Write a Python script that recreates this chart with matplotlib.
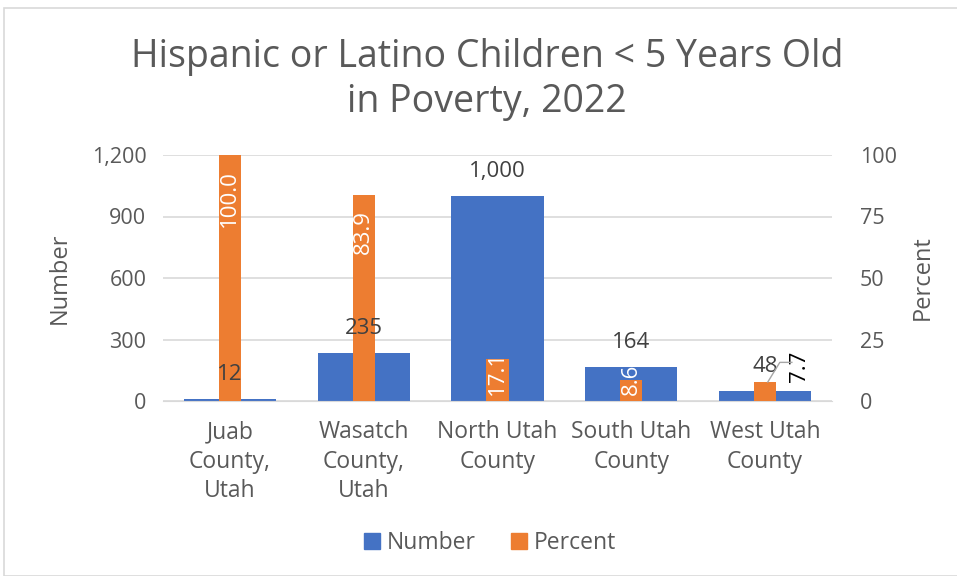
import matplotlib
matplotlib.use("Agg")
import matplotlib.pyplot as plt
from matplotlib.patches import Rectangle, Patch
from matplotlib.ticker import FuncFormatter

plt.rcParams['font.family'] = ['Open Sans', 'DejaVu Sans']

categories = ["Juab\nCounty,\nUtah", "Wasatch\nCounty,\nUtah", "North Utah\nCounty",
              "South Utah\nCounty", "West Utah\nCounty"]
number = [12, 235, 1000, 164, 48]
percent = [100.0, 83.9, 17.1, 8.6, 7.7]
number_labels = ["12", "235", "1,000", "164", "48"]
percent_labels = ["100.0", "83.9", "17.1", "8.6", "7.7"]
left_ticks = [0, 300, 600, 900, 1200]
right_ticks = [0, 25, 50, 75, 100]

BLUE = "#4472C4"
ORANGE = "#ED7D31"
TXT = "#595959"

fig = plt.figure(figsize=(9.57, 5.76), dpi=100)
fig.patches.append(Rectangle((4/957, 0), 1.0, 1 - 8/576, transform=fig.transFigure,
                             fill=False, edgecolor="#d9d9d9", linewidth=1.2, zorder=0))

ax = fig.add_axes([163/957, 1 - 401/576, (832-163)/957, (401-155)/576])
ax2 = ax.twinx()

x = list(range(len(categories)))
ax.bar(x, number, width=0.69, color=BLUE, zorder=2)
ax2.bar(x, percent, width=0.165, color=ORANGE, zorder=3)

ax.set_ylim(0, 1200)
ax2.set_ylim(0, 100)
ax.set_xlim(-0.5, len(categories) - 0.5)
ax.set_yticks(left_ticks)
ax2.set_yticks(right_ticks)
ax.yaxis.set_major_formatter(FuncFormatter(lambda v, p: f"{int(v):,}"))
ax.set_xticks(x)
ax.set_xticklabels(categories, fontsize=16.5, color=TXT, linespacing=1.3)
for a in (ax, ax2):
    a.tick_params(axis='y', length=0, labelsize=15.5, labelcolor=TXT)
    for s in a.spines.values():
        s.set_visible(False)
ax.tick_params(axis='x', length=0, labelcolor=TXT, pad=14)
ax.tick_params(axis='y', pad=12)
ax2.tick_params(axis='y', pad=20)
ax.spines['bottom'].set_visible(True)
ax.spines['bottom'].set_color("#d9d9d9")
ax.grid(axis='y', color="#d9d9d9", linewidth=1.2, zorder=0)
ax.set_axisbelow(True)

ax.set_ylabel("Number", fontsize=17, color=TXT, labelpad=14)
ax2.set_ylabel("Percent", fontsize=17, color=TXT, labelpad=10)

# number labels
for xi, v, lab in zip(x, number, number_labels):
    ax2.annotate(lab, xy=(xi, v / 12.0), xytext=(0, 10), textcoords="offset points",
                 ha="center", va="bottom", fontsize=16, color="#404040", zorder=5)

# percent labels (rotated, inside end)
for xi, v, lab in zip(x, percent, percent_labels):
    if v > 30:
        ax2.annotate(lab, xy=(xi, v), xytext=(0, -11), textcoords="offset points",
                     ha="center", va="top", rotation=90, fontsize=16, color="white", zorder=6)
    elif v > 8:
        ax2.annotate(lab, xy=(xi, 0), xytext=(0, 4), textcoords="offset points",
                     ha="center", va="bottom", rotation=90, fontsize=16, color="white", zorder=6)
    else:
        ax2.annotate(lab, xy=(xi, v), xytext=(xi + 0.26, v + 6.5), textcoords="data",
                     ha="center", va="center", rotation=90, fontsize=16, color="black",
                     zorder=6)
        ax2.plot([xi + 0.02, xi + 0.11, xi + 0.2], [v, v + 8, v + 8],
                 color="#a6a6a6", linewidth=1, zorder=6, clip_on=False)

fig.suptitle("Hispanic or Latino Children < 5 Years Old\nin Poverty, 2022",
             x=487/957, y=1 - 38/576, fontsize=27, color=TXT, linespacing=1.25)

handles = [Patch(color=BLUE, label="Number"), Patch(color=ORANGE, label="Percent")]
fig.legend(handles=handles, loc="center", bbox_to_anchor=(490/957, 1 - 543/576), ncol=2,
           frameon=False, fontsize=16.5, labelcolor=TXT, handlelength=0.7, handleheight=0.7,
           columnspacing=1.5, handletextpad=0.3)

fig.savefig("out.png", dpi=100)
